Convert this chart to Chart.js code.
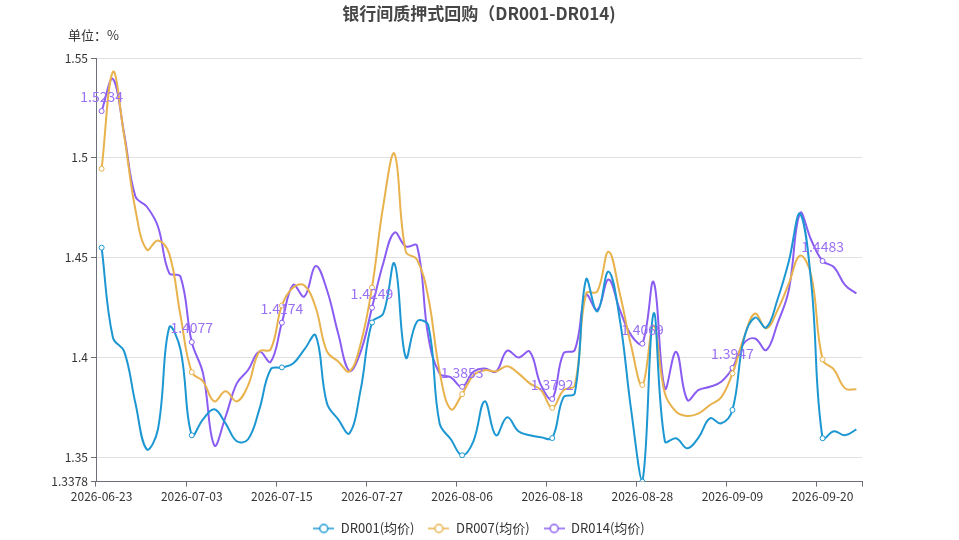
<!DOCTYPE html>
<html>
<head>
<meta charset="utf-8">
<script src="https://cdn.jsdelivr.net/npm/chart.js@4.4.1/dist/chart.umd.min.js"></script>
<style>
  html, body { margin: 0; padding: 0; background: #fff; }
  #wrap { width: 959px; height: 540px; }
</style>
</head>
<body>
<div id="wrap"><canvas id="chart" width="959" height="540"></canvas></div>
<script>
// trading days, one label every 8 days
const dates = [
  "2026-06-23", "2026-06-24", "2026-06-25", "2026-06-26", "2026-06-29", "2026-06-30", "2026-07-01", "2026-07-02",
  "2026-07-03", "2026-07-06", "2026-07-07", "2026-07-08", "2026-07-09", "2026-07-10", "2026-07-13", "2026-07-14",
  "2026-07-15", "2026-07-16", "2026-07-17", "2026-07-20", "2026-07-21", "2026-07-22", "2026-07-23", "2026-07-24",
  "2026-07-27", "2026-07-28", "2026-07-29", "2026-07-30", "2026-07-31", "2026-08-03", "2026-08-04", "2026-08-05",
  "2026-08-06", "2026-08-07", "2026-08-10", "2026-08-11", "2026-08-12", "2026-08-13", "2026-08-14", "2026-08-17",
  "2026-08-18", "2026-08-19", "2026-08-20", "2026-08-21", "2026-08-24", "2026-08-25", "2026-08-26", "2026-08-27",
  "2026-08-28", "2026-08-31", "2026-09-01", "2026-09-02", "2026-09-03", "2026-09-04", "2026-09-07", "2026-09-08",
  "2026-09-09", "2026-09-10", "2026-09-11", "2026-09-14", "2026-09-15", "2026-09-16", "2026-09-17", "2026-09-18",
  "2026-09-20", "2026-09-21", "2026-09-22", "2026-09-23"
];

const dr001 = [
  1.455, 1.410, 1.403, 1.377, 1.354, 1.364, 1.415, 1.404, 1.361, 1.369,
  1.374, 1.367, 1.358, 1.359, 1.374, 1.394, 1.395, 1.397, 1.404, 1.411,
  1.377, 1.369, 1.362, 1.384, 1.4175, 1.422, 1.447, 1.400, 1.418, 1.416,
  1.367, 1.359, 1.351, 1.358, 1.378, 1.361, 1.370, 1.363, 1.361, 1.360,
  1.3596, 1.380, 1.382, 1.439, 1.423, 1.443, 1.419, 1.374, 1.3378, 1.422,
  1.358, 1.3595, 1.3545, 1.360, 1.3695, 1.367, 1.3737, 1.409, 1.420, 1.415,
  1.429, 1.448, 1.472, 1.437, 1.3595, 1.363, 1.361, 1.364
];

const dr007 = [
  1.4945, 1.543, 1.511, 1.474, 1.454, 1.4586, 1.452, 1.421, 1.3926, 1.388,
  1.378, 1.383, 1.378, 1.386, 1.403, 1.404, 1.426, 1.435, 1.436, 1.425,
  1.403, 1.398, 1.393, 1.407, 1.435, 1.476, 1.502, 1.453, 1.449, 1.430,
  1.393, 1.374, 1.3816, 1.391, 1.3936, 1.393, 1.3956, 1.392, 1.387, 1.3836,
  1.3747, 1.3836, 1.386, 1.432, 1.433, 1.453, 1.432, 1.406, 1.3862, 1.416,
  1.382, 1.3728, 1.3707, 1.372, 1.3762, 1.380, 1.392, 1.4095, 1.422, 1.4145,
  1.4237, 1.437, 1.451, 1.441, 1.399, 1.394, 1.3845, 1.384
];

const dr014 = [
  1.5234, 1.5395, 1.512, 1.4806, 1.4756, 1.4656, 1.4422, 1.4405, 1.4077, 1.392,
  1.356, 1.3703, 1.387, 1.3937, 1.4029, 1.3978, 1.4174, 1.4363, 1.4305, 1.4458,
  1.4338, 1.412, 1.3933, 1.4029, 1.4249, 1.4472, 1.4626, 1.4556, 1.4559, 1.4104,
  1.392, 1.390, 1.3853, 1.3928, 1.3945, 1.3928, 1.4034, 1.400, 1.4029, 1.3861,
  1.3792, 1.402, 1.4037, 1.4313, 1.4238, 1.439, 1.4238, 1.4112, 1.4069, 1.4378,
  1.3845, 1.4028, 1.3787, 1.3837, 1.3853, 1.3878, 1.3947, 1.407, 1.4095, 1.4037,
  1.417, 1.4337, 1.4723, 1.4587, 1.4483, 1.4453, 1.4362, 1.432
];

const yTicks = [1.3378, 1.35, 1.4, 1.45, 1.5, 1.55];
const seriesNames = ["DR001(均价)", "DR007(均价)", "DR014(均价)"];
const colors = ["#1c97d2", "#e8b24d", "#8a5cf2"];

const FONT = '"Microsoft YaHei", "Noto Sans CJK SC", sans-serif';
const STEP = 8;

// legend icon: short line with hollow circle
function legendIcon(color) {
  const c = document.createElement("canvas");
  c.width = 21;
  c.height = 12;
  const g = c.getContext("2d");
  g.strokeStyle = color;
  g.lineWidth = 1.5;
  g.beginPath();
  g.moveTo(0, 6);
  g.lineTo(21, 6);
  g.stroke();
  g.fillStyle = "#fff";
  g.beginPath();
  g.arc(10.5, 6, 4, 0, Math.PI * 2);
  g.fill();
  g.stroke();
  return c;
}
const icons = colors.map(legendIcon);

function makeSet(i, values) {
  return {
    label: seriesNames[i],
    data: values,
    borderColor: colors[i],
    backgroundColor: colors[i],
    borderWidth: 2,
    tension: 0.4,
    pointRadius: (ctx) => (ctx.index % STEP === 0 ? 2.5 : 0),
    pointHoverRadius: 0,
    pointBackgroundColor: "#fff",
    pointBorderColor: colors[i],
    pointBorderWidth: 1,
  };
}

// title, unit text and value labels of DR014
const extras = {
  id: "extras",
  afterDraw(chart) {
    const ctx = chart.ctx;
    ctx.save();
    ctx.fillStyle = "#464646";
    ctx.font = "bold 17px " + FONT;
    ctx.textAlign = "center";
    ctx.textBaseline = "middle";
    ctx.fillText("银行间质押式回购（DR001-DR014)", 479, 14);

    ctx.fillStyle = "#333";
    ctx.font = "13px " + FONT;
    ctx.textAlign = "left";
    ctx.fillText("单位：%", 68, 35);
    ctx.restore();
  },
  afterDatasetsDraw(chart) {
    const ctx = chart.ctx;
    const meta = chart.getDatasetMeta(2);
    ctx.save();
    ctx.fillStyle = "#9a70f4";
    ctx.font = "14px " + FONT;
    ctx.textAlign = "center";
    ctx.textBaseline = "bottom";
    meta.data.forEach((pt, i) => {
      if (i % STEP !== 0) return;
      ctx.fillText(String(dr014[i]), pt.x, pt.y - 7);
    });
    ctx.restore();
  },
};

new Chart(document.getElementById("chart"), {
  type: "line",
  data: {
    labels: dates,
    datasets: [makeSet(0, dr001), makeSet(1, dr007), makeSet(2, dr014)],
  },
  options: {
    responsive: false,
    animation: false,
    layout: { padding: { top: 58, right: 97, left: 0, bottom: -5 } },
    plugins: {
      title: { display: false },
      tooltip: { enabled: false },
      legend: {
        position: "bottom",
        fullSize: false,
        labels: {
          usePointStyle: true,
          pointStyleWidth: 21,
          boxHeight: 13,
          padding: 14,
          color: "#333",
          font: { size: 13, family: FONT },
          generateLabels(chart) {
            const items = Chart.defaults.plugins.legend.labels.generateLabels(chart);
            items.forEach((it) => {
              it.pointStyle = icons[it.datasetIndex];
            });
            return items;
          },
        },
      },
    },
    scales: {
      x: {
        offset: true,
        grid: {
          offset: true,
          drawOnChartArea: false,
          drawTicks: true,
          tickLength: 5,
          color: (ctx) =>
            ctx.index === undefined || ctx.index % STEP === 0 ? "#6e7079" : "rgba(0,0,0,0)",
        },
        border: { display: true, color: "#6e7079", width: 1 },
        ticks: {
          autoSkip: false,
          maxRotation: 0,
          padding: 3,
          color: "#333",
          font: { size: 12, family: FONT },
          callback: function (val, i) {
            return i % STEP === 0 ? dates[i] : "";
          },
        },
        afterFit(scale) {
          scale.height = 26.4;
        },
      },
      y: {
        min: 1.3378,
        max: 1.55,
        grid: {
          color: "#e0e0e0",
          tickColor: "#6e7079",
          tickLength: 5,
        },
        border: { display: true, color: "#6e7079", width: 1 },
        ticks: {
          padding: 3,
          color: "#333",
          font: { size: 12, family: FONT },
          callback: (v) => String(v),
        },
        afterBuildTicks(scale) {
          scale.ticks = yTicks.map((v) => ({ value: v }));
        },
        afterFit(scale) {
          scale.width = 96;
        },
      },
    },
  },
  plugins: [extras],
});
</script>
</body>
</html>
